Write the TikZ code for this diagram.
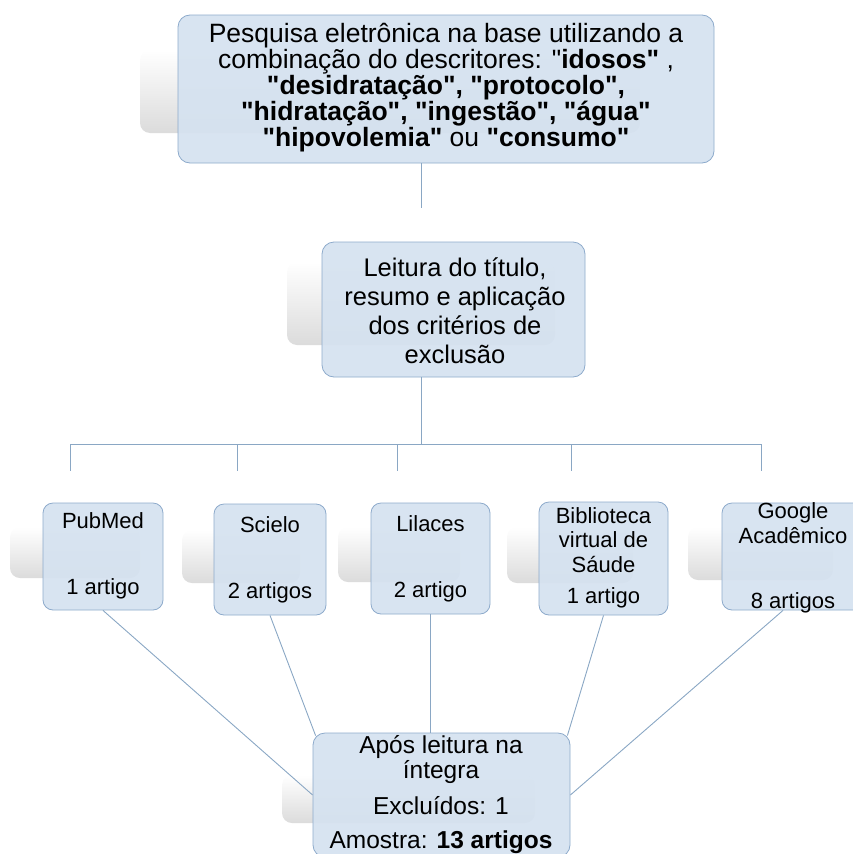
\documentclass[tikz,border=0pt]{standalone}
\usepackage{fontspec}
\setmainfont{Liberation Sans}[Ligatures=TeXOff]
\definecolor{boxfill}{HTML}{D5E2F0}
\definecolor{boxline}{HTML}{8DAACB}
\definecolor{linkcol}{HTML}{8AA7C4}

\begin{document}
\begin{tikzpicture}[x=1pt, y=-1pt,
    stagebox/.style={draw=boxline, fill=boxfill, fill opacity=0.92, rounded corners=12pt, line width=0.8pt, inner sep=0pt},
    txt/.style={align=center, inner sep=0pt},
    refl/.style={top color=white, bottom color=black!14, rounded corners=10pt},
    link/.style={draw=linkcol, line width=0.9pt}]
      \useasboundingbox (0,0) rectangle (853,854);

      % reflections behind the boxes
      \shade[refl] (140,50) rectangle (640,133);
      \shade[refl] (287,262) rectangle (555,345);
      \shade[refl] (10,527) rectangle (140,578);
      \shade[refl] (182,530) rectangle (300,583);
      \shade[refl] (338,527) rectangle (460,582);
      \shade[refl] (507,527) rectangle (633,583);
      \shade[refl] (688,527) rectangle (833,580);
      \shade[refl] (282,775) rectangle (535,823);

      \node[stagebox, minimum width=536pt, minimum height=148pt] (busca) at (446,89) {};
      \node[stagebox, minimum width=263pt, minimum height=135pt] (leitura) at (453.5,309.5) {};
      \node[stagebox, minimum width=120pt, minimum height=107pt, rounded corners=10pt] (pub) at (103,556.5) {};
      \node[stagebox, minimum width=112pt, minimum height=111pt, rounded corners=10pt] (sci) at (270,559.5) {};
      \node[stagebox, minimum width=119pt, minimum height=111pt, rounded corners=10pt] (lil) at (430.5,558.5) {};
      \node[stagebox, minimum width=129pt, minimum height=113pt, rounded corners=10pt] (bib) at (603.5,558.5) {};
      \node[stagebox, minimum width=142pt, minimum height=107pt, rounded corners=10pt] (goo) at (793,556.5) {};
      \node[stagebox, minimum width=257pt, minimum height=124pt] (res) at (441.5,795) {};

      \node[txt, font=\fontsize{26.5}{26}\selectfont] (buscatxt) at (446,88) {Pesquisa eletrônica na base utilizando a\\
        combinação do descritores: "\textbf{idosos"} ,\\
        \textbf{"desidratação", "protocolo",}\\
        \textbf{"hidratação", "ingestão", "água"}\\
        \textbf{"hipovolemia"} ou \textbf{"consumo"}};
      \node[txt, font=\fontsize{25.5}{29}\selectfont] (leituratxt) at (455,311) {Leitura do título,\\resumo e aplicação\\dos critérios de\\exclusão};

      \node[txt, font=\fontsize{22}{24.5}\selectfont] (pubtxt) at (103,556) {PubMed\\[41.5pt]1 artigo};
      \node[txt, font=\fontsize{22}{24.5}\selectfont] (scitxt) at (270,560) {Scielo\\[41.5pt]2 artigos};
      \node[txt, font=\fontsize{22}{24.5}\selectfont] (liltxt) at (430.5,559) {Lilaces\\[41.5pt]2 artigo};
      \node[txt, font=\fontsize{22}{24.5}\selectfont] (bibtxt) at (603.5,558) {Biblioteca\\virtual de\\Sáude\\[7pt]1 artigo};
      \node[txt, font=\fontsize{22}{24.5}\selectfont] (gootxt) at (793,558) {Google\\Acadêmico\\[40.5pt]8 artigos};

      \node[txt, font=\fontsize{24.5}{25}\selectfont] (restxt) at (441,795) {Após leitura na\\íntegra\\[11pt]Excluídos: 1\\[9pt]Amostra: \textbf{13 artigos}};

      \coordinate (c1) at (421,208);
      \coordinate (hub) at (421,444);
      \draw[link] (busca.south -| c1) -- (c1);
      \draw[link] (leitura.south -| hub) -- (hub);
      \draw[link] (70,444) -- (761,444);
      \foreach \n/\x in {1/70,2/237,3/397,4/571,5/761} {
        \coordinate (d\n) at (\x,471);
        \draw[link] (d\n |- hub) -- (d\n);
      }

      \draw[link] (pub.south) -- (res.west);
      \draw[link] (sci.south) -- ([shift={(3,3)}]res.north west);
      \draw[link] (lil.south) -- (lil.south |- res.north);
      \draw[link] (bib.south) -- ([shift={(-3,3)}]res.north east);
      \draw[link] ([xshift=-10pt]goo.south) -- (res.east);

    \end{tikzpicture}
\end{document}
